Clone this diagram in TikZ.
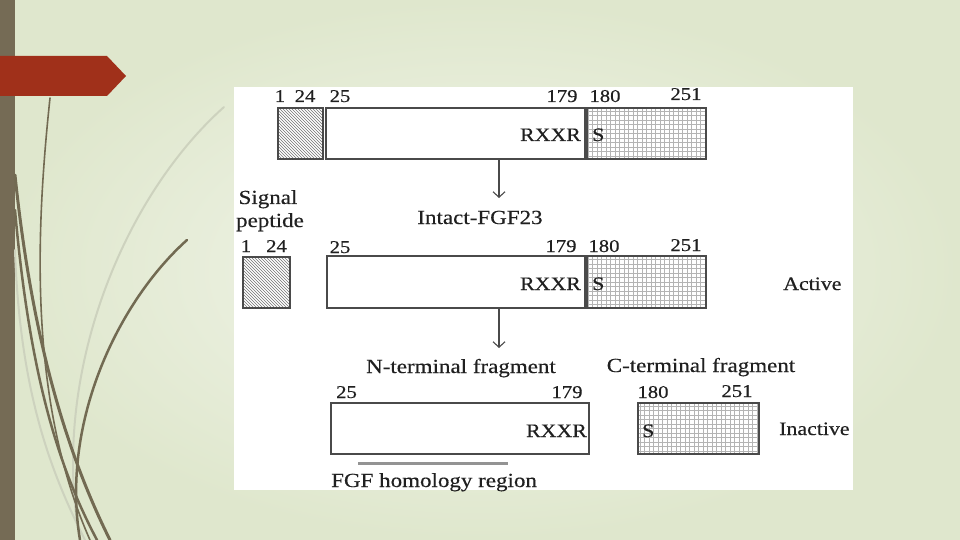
\documentclass[tikz,border=0pt]{standalone}
\usepackage{fontspec}
\setmainfont{Liberation Serif}[FakeStretch=1.15,FakeBold=0.4]
\usetikzlibrary{patterns,arrows.meta}
\definecolor{bgout}{HTML}{DFE7CD}
\definecolor{bgin}{HTML}{F3F6EC}
\definecolor{barc}{HTML}{756B55}
\definecolor{redc}{HTML}{A0301A}
\definecolor{curvec}{HTML}{726A52}
\definecolor{lightcurve}{HTML}{CDD2BE}
\definecolor{boxc}{HTML}{4A4A4A}
\definecolor{txtc}{HTML}{202020}
\definecolor{gridc}{HTML}{B4B4B4}
\tikzset{
  wordlbl/.style={inner sep=0pt, anchor=base, text=txtc, font=\fontsize{20}{24}\selectfont},
  numlbl/.style={inner sep=0pt, anchor=base, text=txtc, font=\fontsize{18}{22}\selectfont},
  seqlbl/.style={inner sep=0pt, text=txtc, font=\fontsize{19}{23}\selectfont},
  boxbase/.style={draw=boxc, line width=1.4pt, inner sep=0pt, minimum height=51pt},
  plainbox/.style={boxbase, fill=white},
  sigbox/.style={boxbase, fill=gray!20, pattern=north west lines, pattern color=gray!90!black},
  gridbox/.style={boxbase, fill=white, path picture={
      \draw[gridc, line width=0.45pt, step=4.5pt]
        ([shift={(-2pt,-2pt)}]path picture bounding box.south west) grid
        ([shift={(2pt,2pt)}]path picture bounding box.north east);}},
  arr/.style={draw=boxc, line width=1.1pt, -{Straight Barb[length=5.5pt,width=12pt,line width=1.1pt]}},
  curve/.style={draw=curvec, line cap=round},
  lcurve/.style={draw=lightcurve, line cap=round}
}
\begin{document}
\begin{tikzpicture}[x=1pt,y=-1pt]
\useasboundingbox (0,0) rectangle (960,540);
% background
\shade[inner color=bgin, outer color=bgout] (0,0) rectangle (960,540);
\fill[barc] (0,0) rectangle (15,540);
% decorative curves
\draw[lcurve, line width=2pt] (224,107) .. controls (120,200) and (50,380) .. (80,540);
\draw[lcurve, line width=2pt] (15,250) .. controls (20,400) and (55,480) .. (85,540);
\draw[curve, line width=1.6pt] (50,98) .. controls (36,230) and (28,400) .. (90,540);
\draw[curve, line width=3pt] (15,175) .. controls (30,320) and (60,440) .. (110,540);
\draw[curve, line width=2.5pt] (15,210) .. controls (30,380) and (60,470) .. (97,540);
\draw[curve, line width=2.5pt] (187,240) .. controls (120,300) and (60,420) .. (80,540);
% red banner
\fill[redc] (0,56) -- (107,56) -- (126,76) -- (107,96) -- (0,96) -- cycle;
% white panel
\fill[white] (234,87) rectangle (853,490);

% ---- row 1 ----
\node[sigbox, minimum width=45pt] (s1) at (300.5,133.5) {};
\node[plainbox, minimum width=259pt] (w1) at (455.5,133.5) {};
\node[gridbox, minimum width=119pt] (g1) at (646.5,133.5) {};
\node[numlbl] (n1a) at (280,102) {1};
\node[numlbl] (n1b) at (305,102) {24};
\node[numlbl] (n1c) at (340,102) {25};
\node[numlbl] (n1d) at (562,102) {179};
\node[numlbl] (n1e) at (605,102) {180};
\node[numlbl] (n1f) at (686,100) {251};
\node[seqlbl, anchor=base east] (r1) at (581,141) {RXXR};
\node[seqlbl, anchor=base west] (sx1) at (592,141) {S};
\node[wordlbl] (sig) at (268,204) {Signal};
\node[wordlbl] (pep) at (270,227) {peptide};
\node[wordlbl] (intact) at (480,224) {Intact-FGF23};
\coordinate (a1e) at (499,198);
\draw[arr] (w1.south -| a1e) -- (a1e);

% ---- row 2 ----
\node[sigbox, minimum width=47pt] (s2) at (266.5,282.5) {};
\node[plainbox, minimum width=258pt, minimum height=52pt] (w2) at (456,282) {};
\node[gridbox, minimum width=119pt, minimum height=52pt] (g2) at (646.5,282) {};
\node[numlbl] (n2a) at (246,252) {1};
\node[numlbl] (n2b) at (276.5,252) {24};
\node[numlbl] (n2c) at (340,253) {25};
\node[numlbl] (n2d) at (561,252) {179};
\node[numlbl] (n2e) at (604,252) {180};
\node[numlbl] (n2f) at (686,251) {251};
\node[seqlbl, anchor=base east] (r2) at (581,290) {RXXR};
\node[seqlbl, anchor=base west] (sx2) at (592,290) {S};
\node[seqlbl, anchor=base west] (active) at (783,290) {Active};
\node[wordlbl] (nterm) at (461,373) {N-terminal fragment};
\node[wordlbl] (cterm) at (701,372) {C-terminal fragment};
\coordinate (a2e) at (499,348);
\draw[arr] (w2.south -| a2e) -- (a2e);

% ---- row 3 ----
\node[plainbox, minimum width=258pt] (w3) at (460,428.5) {};
\node[gridbox, minimum width=121pt] (g3) at (698.5,428.5) {};
\node[numlbl] (n3a) at (346.5,398) {25};
\node[numlbl] (n3b) at (567,398) {179};
\node[numlbl] (n3c) at (653,398) {180};
\node[numlbl] (n3d) at (737,397) {251};
\node[seqlbl, anchor=base east] (r3) at (587,437) {RXXR};
\node[seqlbl, anchor=base west] (sx3) at (642,437) {S};
\node[seqlbl, anchor=base west] (inactive) at (779,435) {Inactive};
\coordinate (h1) at (358,463);
\coordinate (h2) at (508,463);
\draw[draw=gray!85, line width=3pt] (h1) -- (h2);
\node[wordlbl, anchor=base west] (fgf) at (331,487) {FGF homology region};
\end{tikzpicture}
\end{document}
